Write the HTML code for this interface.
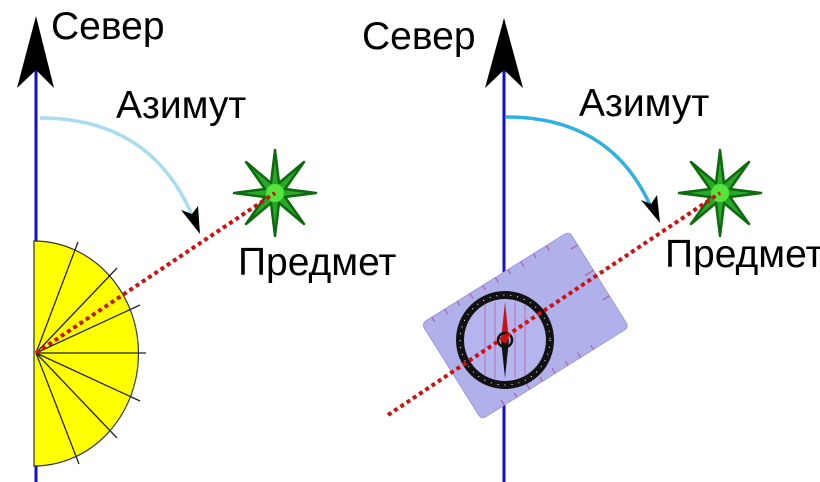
<!DOCTYPE html>
<html><head><meta charset="utf-8"><style>
html,body{margin:0;padding:0;background:#fff;}
svg{display:block;}
text{font-family:"Liberation Sans",sans-serif;fill:#000;}
</style></head><body>
<svg width="820" height="482" viewBox="0 0 820 482" xmlns="http://www.w3.org/2000/svg">
<defs>
<g id="star">
<polygon points="0,-43 4,-10 29,-31 10,-4 41,0 10,4 29,31 4,10 0,43 -4,10 -29,31 -10,4 -41,0 -10,-4 -29,-31 -4,-10" fill="#2aa82a" stroke="#0d6a0d" stroke-width="2.5" stroke-linejoin="round"/>
<circle r="9" fill="#66ff44" opacity="0.7"/>
</g>
</defs>
<!-- LEFT -->
<line x1="36" y1="70" x2="36" y2="482" stroke="#1010c8" stroke-width="3"/>
<path d="M36,16 L54,88 L36,70 L17,88 Z" fill="#000"/>
<text x="51" y="39" font-size="39">Север</text>
<text x="116" y="118" font-size="39">Азимут</text>
<text x="238" y="275" font-size="39">Предмет</text>
<path d="M40,118 Q150,118 192,215" fill="none" stroke="#a8dcf0" stroke-width="3.5"/>
<path d="M200,234 L181,210 L192,214 L198,206 Z" fill="#000"/>
<path d="M34,241 A104,112 0 0 1 34,466 Z" fill="#ffff00" stroke="#333" stroke-width="1.2"/>
<g stroke="#222" stroke-width="1.3">
<line x1="36" y1="353" x2="78" y2="242"/>
<line x1="36" y1="353" x2="117" y2="268"/>
<line x1="36" y1="353" x2="140" y2="305"/>
<line x1="36" y1="353" x2="146" y2="353"/>
<line x1="36" y1="353" x2="140" y2="401"/>
<line x1="36" y1="353" x2="117" y2="438"/>
<line x1="36" y1="353" x2="79" y2="464"/>
</g>
<use href="#star" x="275" y="193"/>
<line x1="36" y1="353" x2="275" y2="193" stroke="#cc1111" stroke-width="4" stroke-dasharray="4,3.5"/>
<!-- RIGHT -->
<line x1="504" y1="70" x2="504" y2="482" stroke="#1010c8" stroke-width="3"/>
<path d="M504,18 L523,88 L504,70 L485,88 Z" fill="#000"/>
<text x="362" y="49" font-size="39">Север</text>
<text x="579" y="116" font-size="39">Азимут</text>
<text x="665" y="267" font-size="39">Предмет</text>
<path d="M506,117 Q610,117 650,205" fill="none" stroke="#30b0e0" stroke-width="3.5"/>
<path d="M660,223 L641,200 L651,204 L657,195 Z" fill="#000"/>
<g transform="translate(525,325) rotate(-32)">
<rect x="-87" y="-56" width="174" height="113" rx="5" fill="#b0b0ea" stroke="#9a9ade"/>
<g stroke="#b050a0" stroke-width="1">
<line x1="-75" y1="-56" x2="-75" y2="-51"/><line x1="-60" y1="-56" x2="-60" y2="-50"/><line x1="-45" y1="-56" x2="-45" y2="-51"/><line x1="-30" y1="-56" x2="-30" y2="-50"/><line x1="-15" y1="-56" x2="-15" y2="-51"/><line x1="0" y1="-56" x2="0" y2="-50"/><line x1="15" y1="-56" x2="15" y2="-51"/><line x1="30" y1="-56" x2="30" y2="-50"/><line x1="45" y1="-56" x2="45" y2="-51"/><line x1="60" y1="-56" x2="60" y2="-50"/>
<line x1="87" y1="-40" x2="79" y2="-40"/><line x1="87" y1="-10" x2="77" y2="-10"/><line x1="87" y1="20" x2="79" y2="20"/>
<line x1="-60" y1="57" x2="-60" y2="51"/><line x1="-45" y1="57" x2="-45" y2="52"/><line x1="-30" y1="57" x2="-30" y2="51"/><line x1="-15" y1="57" x2="-15" y2="52"/><line x1="0" y1="57" x2="0" y2="51"/><line x1="15" y1="57" x2="15" y2="52"/><line x1="30" y1="57" x2="30" y2="51"/><line x1="45" y1="57" x2="45" y2="52"/>
</g>
</g>
<circle cx="505" cy="340" r="45" fill="none" stroke="#111" stroke-width="8"/>
<circle cx="505" cy="340" r="45" fill="none" stroke="#fff" stroke-width="1" stroke-dasharray="1,6"/>
<circle cx="505" cy="340" r="40" fill="#b4b4ee"/>
<g stroke="#c060a0" stroke-width="0.8">
<line x1="485" y1="305" x2="485" y2="375"/><line x1="495" y1="302" x2="495" y2="378"/><line x1="515" y1="302" x2="515" y2="378"/><line x1="525" y1="305" x2="525" y2="375"/>
</g>
<path d="M505,302 L509,340 L501,340 Z" fill="#cc1111"/>
<path d="M505,378 L509,340 L501,340 Z" fill="#111"/>
<circle cx="505" cy="340" r="7" fill="none" stroke="#111" stroke-width="2.5"/>
<circle cx="505" cy="340" r="3" fill="#cc1111"/>
<use href="#star" x="720" y="193"/>
<line x1="388" y1="415" x2="720" y2="193" stroke="#cc1111" stroke-width="4" stroke-dasharray="4,3.5"/>
</svg>
</body></html>
